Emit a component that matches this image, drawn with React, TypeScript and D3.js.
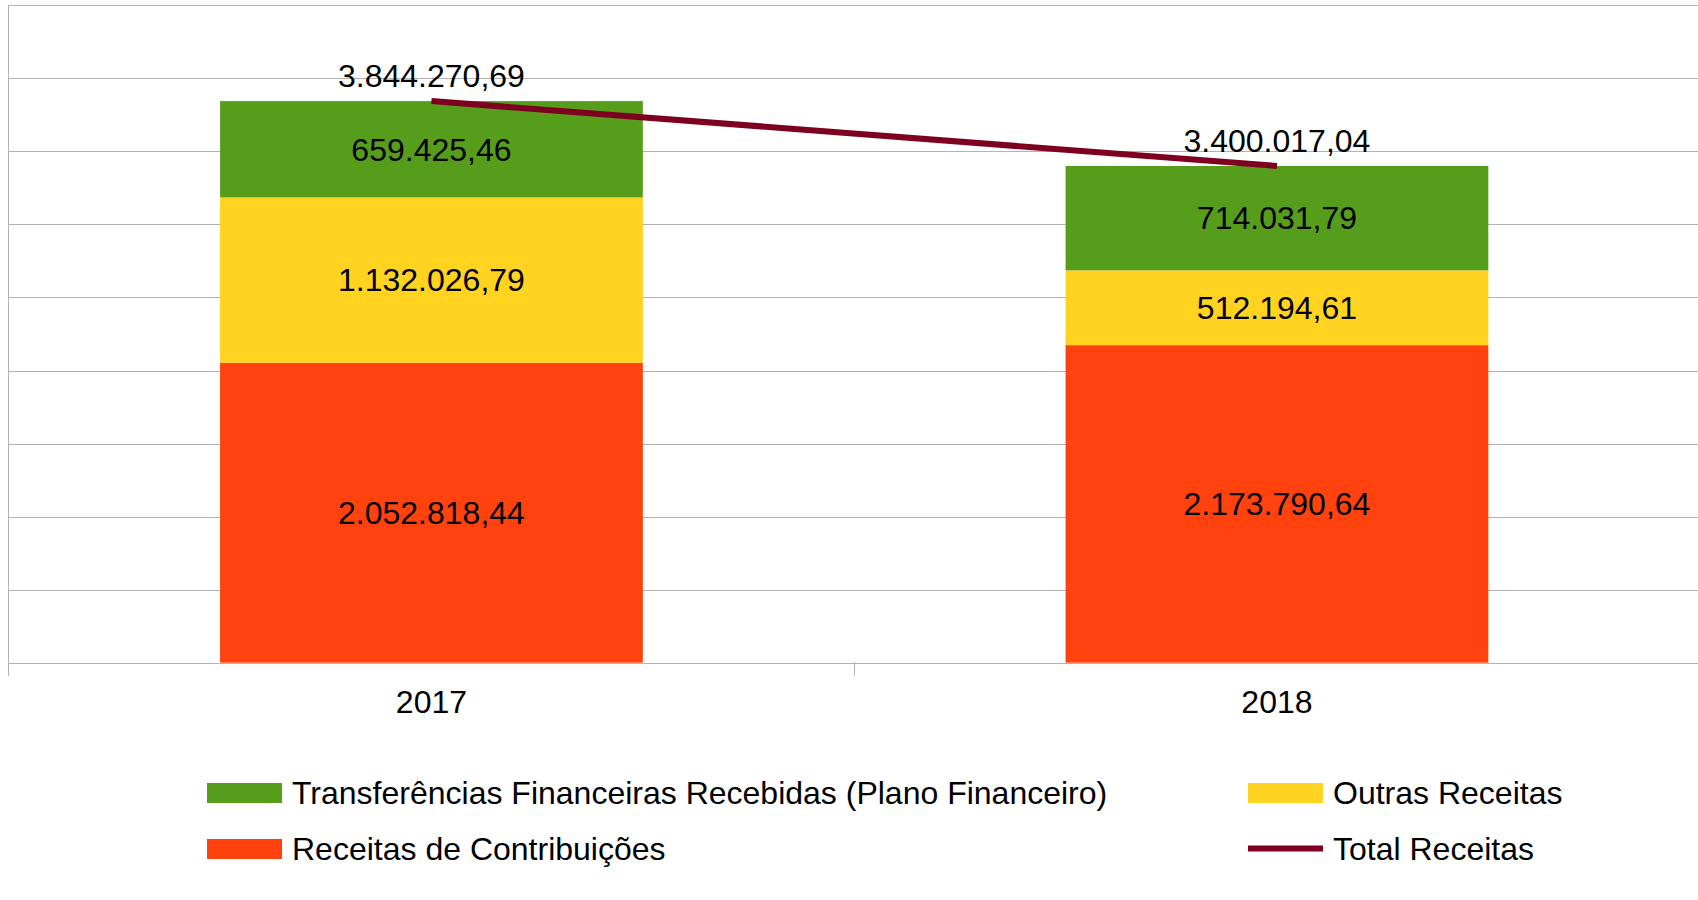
import React from "react";
import * as d3 from "d3";

const years = ["2017", "2018"];
const contribuicoes = [2052818.44, 2173790.64];
const outras = [1132026.79, 512194.61];
const transferencias = [659425.46, 714031.79];
const totais = [3844270.69, 3400017.04];
const yTicks = [0, 500000, 1000000, 1500000, 2000000, 2500000, 3000000, 3500000, 4000000, 4500000];

const seriesNames = [
  "Receitas de Contribuições",
  "Outras Receitas",
  "Transferências Financeiras Recebidas (Plano Financeiro)",
];
const seriesColors = ["#ff420e", "#ffd320", "#579d1c"];
const lineName = "Total Receitas";
const lineColor = "#7e0021";

const W = 1698;
const H = 900;
const FONT = "'Liberation Sans', Arial, sans-serif";

const fmt = (v: number) => {
  const s = v.toFixed(2);
  const [i, d] = s.split(".");
  return i.replace(/\B(?=(\d{3})+(?!\d))/g, ".") + "," + d;
};

export default function App() {
  const x = d3.scaleBand<string>().domain(years).range([8.7, 1699.7]).padding(0);
  const y = d3.scaleLinear().domain([0, 4500000]).range([662.7, 5.3]);
  const bw = x.bandwidth();
  const barW = bw * 0.5;

  const table = years.map((yr, i) => ({
    year: yr,
    c: contribuicoes[i],
    o: outras[i],
    t: transferencias[i],
  }));
  const stack = d3.stack<any>().keys(["c", "o", "t"])(table);

  const lineGen = d3
    .line<number>()
    .x((_, i) => (x(years[i]) as number) + bw / 2)
    .y((d) => y(d));

  const gridColor = "#b3b3b3";

  return (
    <svg
      width={W}
      height={H}
      style={{ position: "absolute", left: 0, top: 0, background: "#fff" }}
      fontFamily={FONT}
    >
      <rect x={0} y={0} width={W} height={H} fill="#fff" />
      {yTicks.map((t) => (
        <line
          key={t}
          x1={8.7}
          x2={W}
          y1={Math.round(y(t)) + 0.5}
          y2={Math.round(y(t)) + 0.5}
          stroke={gridColor}
          strokeWidth={1}
        />
      ))}
      <line x1={8.5} x2={8.5} y1={5} y2={676} stroke={gridColor} strokeWidth={1} />
      {years.map((yr) => (
        <line
          key={yr}
          x1={Math.round((x(yr) as number) + bw) + 0.5}
          x2={Math.round((x(yr) as number) + bw) + 0.5}
          y1={662}
          y2={676}
          stroke={gridColor}
          strokeWidth={1}
        />
      ))}
      {stack.map((s, si) =>
        s.map((d, i) => (
          <rect
            key={si + "-" + i}
            x={(x(years[i]) as number) + (bw - barW) / 2}
            y={y(d[1])}
            width={barW}
            height={y(d[0]) - y(d[1])}
            fill={seriesColors[si]}
          />
        ))
      )}
      {stack.map((s, si) =>
        s.map((d, i) => (
          <text
            key={"l" + si + "-" + i}
            x={(x(years[i]) as number) + bw / 2}
            y={(y(d[0]) + y(d[1])) / 2 + 11.3}
            textAnchor="middle"
            fontSize={32}
            fill="#000"
          >
            {fmt(d[1] - d[0])}
          </text>
        ))
      )}
      <path d={lineGen(totais) || ""} fill="none" stroke={lineColor} strokeWidth={6} />
      {totais.map((v, i) => (
        <text
          key={"t" + i}
          x={(x(years[i]) as number) + bw / 2}
          y={y(v) - 13.7}
          textAnchor="middle"
          fontSize={32}
          fill="#000"
        >
          {fmt(v)}
        </text>
      ))}
      {years.map((yr) => (
        <text
          key={"x" + yr}
          x={(x(yr) as number) + bw / 2}
          y={712.7}
          textAnchor="middle"
          fontSize={32}
          fill="#000"
        >
          {yr}
        </text>
      ))}
      {/* Legend */}
      <rect x={207} y={783} width={75} height={20} fill={seriesColors[2]} />
      <text x={292} y={804} fontSize={32} fill="#000">{seriesNames[2]}</text>
      <rect x={1248} y={783} width={75} height={20} fill={seriesColors[1]} />
      <text x={1333} y={804} fontSize={32} fill="#000">{seriesNames[1]}</text>
      <rect x={207} y={839} width={75} height={20} fill={seriesColors[0]} />
      <text x={292} y={860} fontSize={32} fill="#000">{seriesNames[0]}</text>
      <line x1={1248} x2={1323} y1={848.5} y2={848.5} stroke={lineColor} strokeWidth={6} />
      <text x={1333} y={860} fontSize={32} fill="#000">{lineName}</text>
    </svg>
  );
}
